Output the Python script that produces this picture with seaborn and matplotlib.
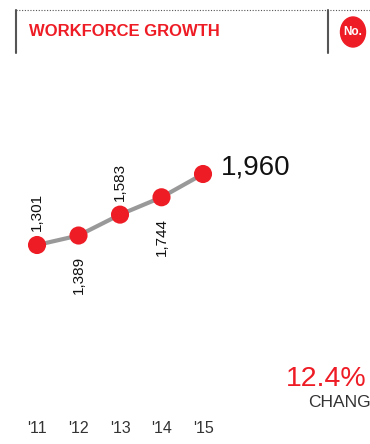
import pandas as pd
import seaborn as sns
import matplotlib.pyplot as plt
from matplotlib.patches import Circle
from matplotlib.lines import Line2D
import matplotlib.transforms as mtransforms

# data
years = ["'11", "'12", "'13", "'14", "'15"]
headcount = [1301, 1389, 1583, 1744, 1960]
label_side = ["above", "below", "above", "below", "big"]

title = "WORKFORCE GROWTH"
change_pct = "12.4%"
change_word = "CHANGE"

RED = "#ee1c25"
GREY = "#999999"
DARK = "#333333"

sns.set_theme(style="white")
plt.rcParams["font.family"] = ["Liberation Sans", "DejaVu Sans"]

W, H = 370, 444
fig = plt.figure(figsize=(W / 100, H / 100), dpi=100)


def fx(px):
    return px / W


def fy(py):
    return 1 - py / H


df = pd.DataFrame({"idx": range(len(years)), "value": headcount})

# axes over whole figure, limits chosen so the series lands in the right spot
ax = fig.add_axes([0, 0, 1, 1])
ax.set_xlim(-0.892, 8.024)
ax.set_ylim(-546, 3575)
ax.axis("off")

sns.lineplot(data=df, x="idx", y="value", ax=ax, color=GREY, linewidth=3,
             zorder=2, legend=False)
sns.scatterplot(data=df, x="idx", y="value", ax=ax, color=RED, s=170,
                edgecolor="none", zorder=3, legend=False)

for i, (v, side) in enumerate(zip(headcount, label_side)):
    txt = f"{v:,}"
    if side == "above":
        ax.annotate(txt, (i, v), xytext=(0, 10), textcoords="offset points",
                    rotation=90, ha="center", va="bottom", fontsize=11, color="#111111")
    elif side == "below":
        ax.annotate(txt, (i, v), xytext=(0, -15), textcoords="offset points",
                    rotation=90, ha="center", va="top", fontsize=11, color="#111111")
    else:
        ax.annotate(txt, (i, v), xytext=(13, 5), textcoords="offset points",
                    ha="left", va="center", fontsize=20, color="#111111")

# year labels under the chart
trans = mtransforms.blended_transform_factory(ax.transData, fig.transFigure)
for i, yr in enumerate(years):
    ax.text(i, fy(428), yr, transform=trans, ha="center", va="center",
            fontsize=11.5, color=DARK)

# header: dotted rule, vertical dividers, title, badge
fig.add_artist(Line2D([fx(16), fx(370)], [fy(10), fy(10)], color="#555555",
                      linewidth=0.8, linestyle=(0, (1, 1.5))))
for xv in (16, 328):
    fig.add_artist(Line2D([fx(xv), fx(xv)], [fy(10), fy(53)], color="#555555",
                          linewidth=1.5))
fig.text(fx(29), fy(32), title, ha="left", va="center", fontsize=12,
         fontweight="bold", color=RED)
fig.add_artist(Circle((fx(353), fy(32)), 12.5 / W, transform=fig.transFigure,
                      color=RED))
fig.text(fx(353), fy(32), "No.", ha="center", va="center", fontsize=8.5,
         fontweight="bold", color="white")

# change callout at the bottom right (runs off the right edge, as in the source)
fig.text(fx(286), fy(379), change_pct, ha="left", va="center", fontsize=20.5,
         color=RED)
fig.text(fx(308), fy(402), change_word, ha="left", va="center", fontsize=12.5,
         color=DARK)

fig.savefig("out.png", dpi=100)
